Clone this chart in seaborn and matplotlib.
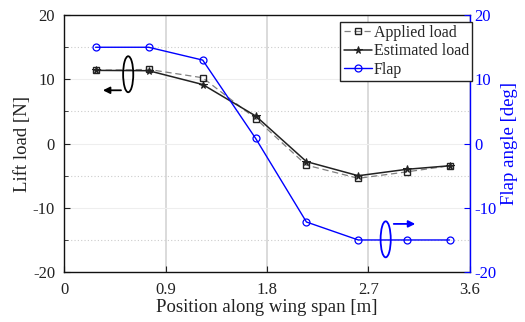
import matplotlib
matplotlib.use("Agg")
import matplotlib.pyplot as plt
from matplotlib.patches import Ellipse
from matplotlib.ticker import MultipleLocator
import numpy as np
import pandas as pd
import seaborn as sns

# Data
position = [0.28, 0.75, 1.23, 1.70, 2.15, 2.61, 3.04, 3.42]
applied_load = [11.4, 11.55, 10.25, 3.9, -3.35, -5.4, -4.4, -3.45]
estimated_load = [11.4, 11.35, 9.2, 4.3, -2.8, -5.0, -4.0, -3.45]
flap_angle = [15.0, 15.0, 13.0, 0.8, -12.2, -15.0, -15.0, -15.0]
x_ticks = [0, 0.9, 1.8, 2.7, 3.6]
y_ticks = [-20, -10, 0, 10, 20]

sns.set_style("ticks")
plt.rcParams['font.family'] = ['Liberation Serif', 'DejaVu Serif']
plt.rcParams['xtick.direction'] = 'in'
plt.rcParams['ytick.direction'] = 'in'

df = pd.DataFrame({"pos": position, "applied": applied_load,
                   "estimated": estimated_load, "flap": flap_angle})

fig = plt.figure(figsize=(5.25, 3.22), dpi=100)
ax = fig.add_axes([0.122, 0.155, 0.773, 0.798])
ax2 = ax.twinx()

sns.lineplot(data=df, x="pos", y="applied", ax=ax, color="#808080", lw=0.9,
             linestyle=(0, (5, 3)), marker="s", markersize=4.5,
             markerfacecolor="none", markeredgecolor="#222222", markeredgewidth=1.0,
             label="Applied load", legend=False)
sns.lineplot(data=df, x="pos", y="estimated", ax=ax, color="#222222", lw=1.1,
             marker="*", markersize=5.5, markerfacecolor="#222222",
             markeredgecolor="#222222", label="Estimated load", legend=False)
sns.lineplot(data=df, x="pos", y="flap", ax=ax2, color="#0000ff", lw=1.0,
             marker="o", markersize=5, markerfacecolor="none",
             markeredgecolor="#0000ff", markeredgewidth=0.9, label="Flap", legend=False)

ax.set_xlim(0, 3.6)
ax.set_ylim(-20, 20)
ax2.set_ylim(-20, 20)
ax.set_xticks(x_ticks)
ax.set_xticklabels([f"{t:g}" for t in x_ticks])
ax.set_yticks(y_ticks)
ax.set_yticklabels([f"{t:d}" for t in y_ticks])
ax.yaxis.set_minor_locator(MultipleLocator(5))
ax2.set_yticks(y_ticks)
ax2.set_yticklabels([f"{t:d}" for t in y_ticks])

ax.tick_params(axis="both", which="both", direction="in", labelsize=12, colors="#222222", length=4)
ax.tick_params(axis="y", which="major", pad=6.5)
ax.tick_params(axis="x", which="major", pad=7)
ax.tick_params(axis="y", which="minor", length=3)
ax2.tick_params(axis="y", direction="in", labelsize=12, colors="#0000ff", length=4, pad=3.5)

ax.grid(axis="x", which="major", color="#d4d4d4", lw=1.2, ls="-")
ax.grid(axis="y", which="major", color="#eeeeee", lw=0.8, ls="-")
ax.grid(axis="y", which="minor", color="#cccccc", lw=0.8, ls=(0, (1, 2)))
ax.set_axisbelow(True)

for s in ["left", "bottom", "top"]:
    ax.spines[s].set_color("#111111")
    ax.spines[s].set_linewidth(1.0)
ax2.spines["right"].set_color("#0000ff")
ax2.spines["right"].set_linewidth(1.0)
ax2.spines["left"].set_visible(False)
ax2.spines["top"].set_visible(False)
ax2.spines["bottom"].set_visible(False)
ax.spines["right"].set_visible(False)

ax.set_xlabel("Position along wing span [m]", fontsize=13.5, color="#222222", labelpad=1)
ax.set_ylabel("Lift load [N]", fontsize=13.5, color="#222222", labelpad=1)
ax2.set_ylabel("Flap angle [deg]", fontsize=13.5, color="#0000ff", labelpad=3)

# Annotations: ellipses with arrows
ax.add_patch(Ellipse((0.569, 10.8), 0.09, 5.6, fill=False, edgecolor="black", lw=1.3, zorder=5))
ax.annotate("", xy=(0.32, 8.3), xytext=(0.53, 8.3),
            arrowprops=dict(arrowstyle="-|>", color="black", lw=1.3, mutation_scale=10))
ax2.add_patch(Ellipse((2.853, -14.9), 0.09, 5.6, fill=False, edgecolor="#0000ff", lw=1.3, zorder=5))
ax2.annotate("", xy=(3.14, -12.5), xytext=(2.9, -12.5),
             arrowprops=dict(arrowstyle="-|>", color="#0000ff", lw=1.3, mutation_scale=10))

h1, l1 = ax.get_legend_handles_labels()
h2, l2 = ax2.get_legend_handles_labels()
leg = ax2.legend(h1 + h2, l1 + l2, loc="upper right", bbox_to_anchor=(1.006, 0.975),
                 fontsize=11.5, frameon=True, fancybox=False, handlelength=1.8,
                 handletextpad=0.1, borderpad=0.2, labelspacing=0.15, borderaxespad=0)
leg.get_frame().set_edgecolor("#222222")
leg.get_frame().set_linewidth(1.0)
leg.get_frame().set_alpha(1)

fig.savefig("out.png", dpi=100)
